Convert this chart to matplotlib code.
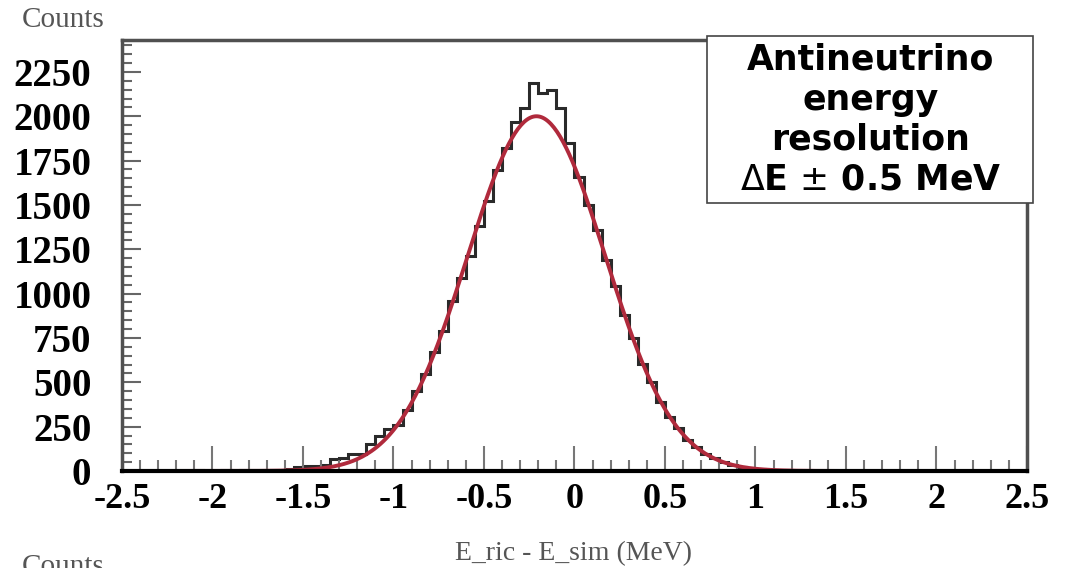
import numpy as np
import matplotlib
matplotlib.use("Agg")
import matplotlib.pyplot as plt
from matplotlib.patches import Rectangle
from matplotlib.ticker import MultipleLocator

# histogram: 100 bins from -2.5 to 2.5 MeV
bin_edges = np.linspace(-2.5, 2.5, 101)
counts = [
    0, 0, 1, 0, 2, 1, 0, 2, 3, 1,
    2, 3, 2, 4, 3, 5, 6, 4, 12, 22,
    28, 30, 34, 70, 72, 98, 96, 150, 196, 238,
    262, 345, 450, 548, 670, 790, 960, 1090, 1210, 1380,
    1525, 1695, 1820, 1966, 2045, 2187, 2130, 2147, 2045, 1850,
    1660, 1500, 1360, 1190, 1045, 880, 750, 605, 500, 390,
    305, 240, 175, 135, 95, 72, 50, 33, 22, 14,
    9, 6, 4, 3, 2, 1, 1, 0, 1, 0,
    0, 0, 0, 0, 0, 0, 0, 0, 0, 0,
    0, 0, 0, 0, 0, 0, 0, 0, 0, 0,
]

# gaussian fit parameters
fit_amp = 2000.0
fit_mean = -0.21
fit_sigma = 0.38

x_ticks = [-2.5, -2, -1.5, -1, -0.5, 0, 0.5, 1, 1.5, 2, 2.5]
x_labels = ["-2.5", "-2", "-1.5", "-1", "-0.5", "0", "0.5", "1", "1.5", "2", "2.5"]
y_ticks = [0, 250, 500, 750, 1000, 1250, 1500, 1750, 2000, 2250]

box_lines = ["Antineutrino", "energy", "resolution", r"$\Delta$E $\pm$ 0.5 MeV"]

fig = plt.figure(figsize=(10.68, 5.68), dpi=100)
ax = fig.add_axes([0.1142, 0.1708, 0.8474, 0.7588])

ax.stairs(counts, bin_edges, color="#2a2a2a", linewidth=2.2)
xf = np.linspace(-2.5, 2.5, 600)
yf = fit_amp * np.exp(-0.5 * ((xf - fit_mean) / fit_sigma) ** 2)
ax.plot(xf, yf, color="#b02a3c", linewidth=2.8)

ax.set_xlim(-2.5, 2.5)
ax.set_ylim(0, 2430)
ax.set_xticks(x_ticks)
ax.set_xticklabels(x_labels)
ax.set_yticks(y_ticks)
ax.xaxis.set_minor_locator(MultipleLocator(0.1))
ax.yaxis.set_minor_locator(MultipleLocator(50))

for lab in ax.get_xticklabels():
    lab.set_fontfamily("Liberation Serif")
    lab.set_fontweight("bold")
    lab.set_fontsize(26)
for lab in ax.get_yticklabels():
    lab.set_fontfamily("Liberation Serif")
    lab.set_fontweight("bold")
    lab.set_fontsize(28)

ax.tick_params(axis="x", which="major", direction="in", length=18, width=1.5,
               color="#777777", pad=9)
ax.tick_params(axis="x", which="minor", direction="in", length=8, width=1.5,
               color="#777777")
ax.tick_params(axis="y", which="major", direction="in", length=14, width=1.5,
               color="#666666", pad=22)
ax.tick_params(axis="y", which="minor", direction="in", length=7, width=1.5,
               color="#666666")

ax.spines["bottom"].set_color("black")
ax.spines["bottom"].set_linewidth(3)
for s in ["top", "right", "left"]:
    ax.spines[s].set_color("#505050")
    ax.spines[s].set_linewidth(2.5)

fig.text(0.02, 0.965, "Counts", family="Liberation Serif", fontsize=21,
         color="#555555", ha="left", va="center")
fig.text(0.537, 0.026, "E_ric - E_sim (MeV)", family="Liberation Serif",
         fontsize=20, color="#555555", ha="center", va="center")
fig.text(0.02, 0.025, "Counts", family="Liberation Serif", fontsize=21,
         color="#555555", ha="left", va="top")

fig.patches.append(Rectangle((0.662, 0.642), 0.305, 0.295, transform=fig.transFigure,
                             facecolor="white", edgecolor="#444444", linewidth=1.2,
                             zorder=5))
fig.text(0.815, 0.789, "\n".join(box_lines), family="DejaVu Sans", weight="bold",
         fontsize=25, ha="center", va="center", linespacing=1.22, zorder=6)

fig.savefig("out.png", dpi=100)
